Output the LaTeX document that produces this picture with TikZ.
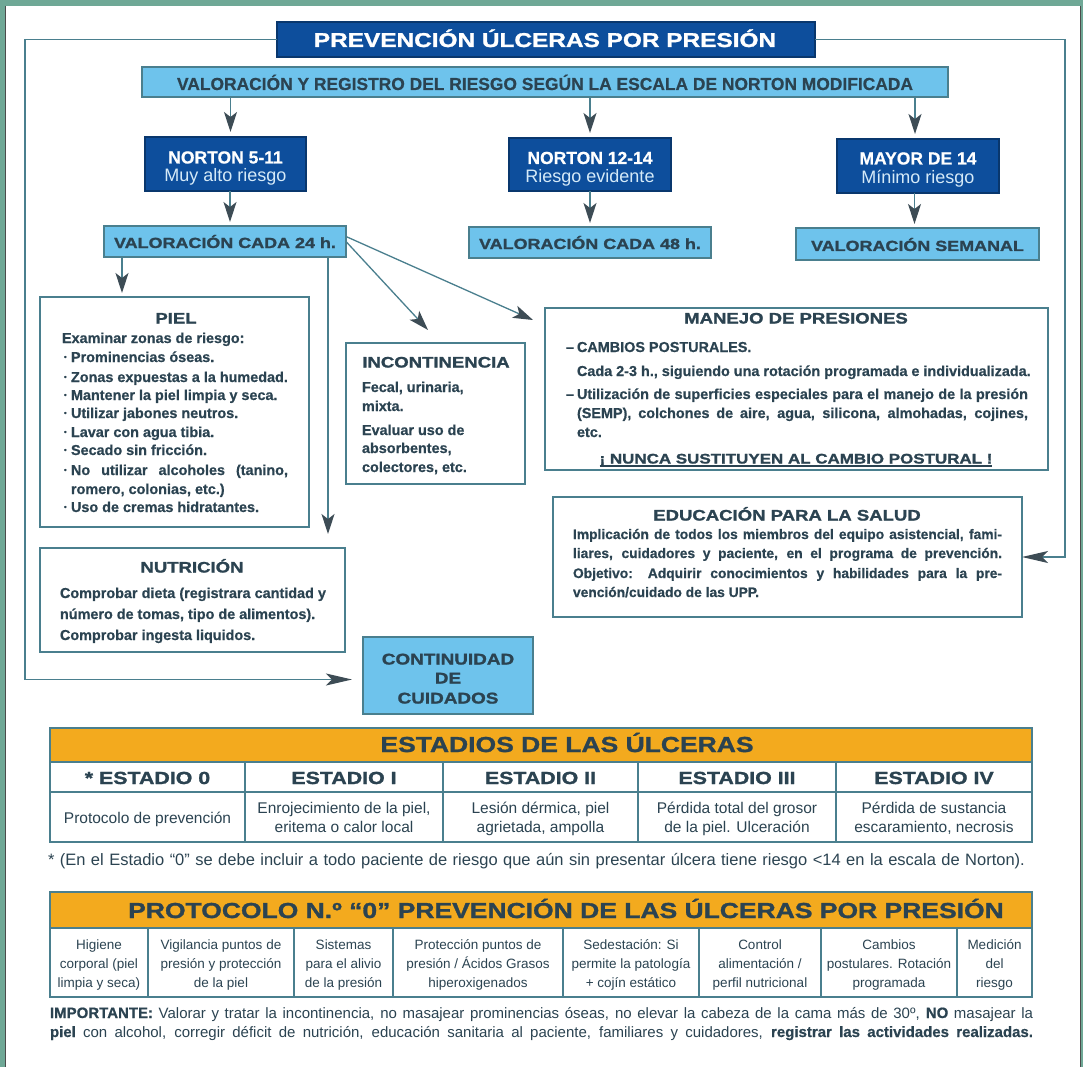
\documentclass[tikz,border=0pt]{standalone}
\usepackage{fontspec}
\usepackage{graphicx}
\setmainfont{Liberation Sans}[BoldFeatures={FakeBold=0.6}]
\newfontfamily\hvy{Liberation Sans}[FakeStretch=1.22,BoldFeatures={FakeBold=1.4}]
\usetikzlibrary{arrows.meta}
\definecolor{framegreen}{HTML}{6FA896}
\definecolor{dblue}{HTML}{0D4E9C}
\definecolor{lblue}{HTML}{6EC3EC}
\definecolor{txt}{HTML}{2B4351}
\definecolor{linec}{HTML}{4A7F8E}
\definecolor{arrowc}{HTML}{3D4C55}
\definecolor{orangeh}{HTML}{F3AA1E}
\definecolor{paleblue}{HTML}{D5EAF8}
\newcommand\fsz[2]{\fontsize{#1}{#2}\selectfont}
\newcommand\bul{\makebox[7pt][l]{\raisebox{2.5pt}{\fsz{7.5}{7}•}}}
\newcommand\dsh{\makebox[11pt][l]{–}}
\newcommand\tcell[5]{%
  \node[cellt] (#1a) at (#2,949.5) {#3};
  \node[cellt] (#1b) at (#2,968.5) {#4};
  \node[cellt] (#1c) at (#2,987.5) {#5};}
\newcommand\scell[4]{%
  \node[stxt] (#1a) at (#2,813) {#3};
  \node[stxt] (#1b) at (#2,832) {#4};}
\begin{document}
\begin{tikzpicture}[x=1pt,y=-1pt,
  every node/.style={inner sep=0pt,outer sep=0pt,text=txt},
  boxbase/.style={anchor=north west,draw=linec,line width=1.5pt},
  dbox/.style={boxbase,fill=dblue,draw=dblue!70!black},
  lbox/.style={boxbase,fill=lblue,draw=linec},
  wbox/.style={boxbase,fill=white,line width=1.7pt},
  conn/.style={draw=linec,line width=1.3pt},
  arr/.style={conn,-{Stealth[length=20pt,width=13pt,inset=5pt,color=arrowc]}},
  harr/.style={conn,-{Stealth[length=26pt,width=12pt,inset=6pt,color=arrowc]}},
  ttl/.style={anchor=base,font=\hvy\bfseries\fsz{15.2}{18}},
  body/.style={anchor=base west,font=\bfseries\fsz{14.4}{19}},
  edut/.style={anchor=base west,font=\bfseries\fsz{13.8}{19}},
  vtxt/.style={anchor=base,font=\hvy\bfseries\fsz{14.7}{18}},
  ntop/.style={anchor=base,text=white,font=\bfseries\fsz{17.5}{20}},
  nbot/.style={anchor=base,text=paleblue,font=\fsz{18}{20}},
  tbl/.style={draw=linec,line width=1.4pt},
  hdr/.style={anchor=base,font=\hvy\bfseries\fsz{21.7}{24}},
  shdr/.style={anchor=base,font=\hvy\bfseries\fsz{17.5}{20}},
  stxt/.style={anchor=base,font=\fsz{15.5}{19}},
  cellt/.style={anchor=base,font=\fsz{13.5}{16}}
]
\useasboundingbox (0,0) rectangle (1083,1067);
\fill[framegreen] (0,0) rectangle (1083,1067);
\fill[white] (6,6) rectangle (1080,1067);
\draw[black!70,line width=1pt] (5.5,6) -- (5.5,1067) (1080.5,6) -- (1080.5,1067);

% ---------- boxes ----------
\node[dbox,minimum width=538pt,minimum height=35pt] (title) at (277,22) {};
\node[anchor=base,text=white,font=\hvy\bfseries\fsz{20}{24}] (titlet) at (545,47) {PREVENCIÓN ÚLCERAS POR PRESIÓN};

\node[lbox,minimum width=806pt,minimum height=30pt] (valbar) at (142,67) {};
\node[anchor=base,font=\bfseries\fsz{17.4}{20}] (valbart) at (545,90) {VALORACIÓN Y REGISTRO DEL RIESGO SEGÚN LA ESCALA DE NORTON MODIFICADA};

\node[dbox,minimum width=161pt,minimum height=54pt] (n1) at (145,137) {};
\node[ntop] (n1a) at (225.5,163.5) {NORTON 5-11};
\node[nbot] (n1b) at (225.5,182) {Muy alto riesgo};
\node[dbox,minimum width=162pt,minimum height=53pt] (n2) at (509,138) {};
\node[ntop] (n2a) at (590,164) {NORTON 12-14};
\node[nbot] (n2b) at (590,182.5) {Riesgo evidente};
\node[dbox,minimum width=162pt,minimum height=54pt] (n3) at (837,139) {};
\node[ntop] (n3a) at (918,164.5) {MAYOR DE 14};
\node[nbot] (n3b) at (918,183.5) {Mínimo riesgo};

\node[lbox,minimum width=242pt,minimum height=31pt] (v24) at (104,226) {};
\node[vtxt] (v24t) at (225,248) {VALORACIÓN CADA 24 h.};
\node[lbox,minimum width=242pt,minimum height=31pt] (v48) at (469,227) {};
\node[vtxt] (v48t) at (590,249) {VALORACIÓN CADA 48 h.};
\node[lbox,minimum width=243pt,minimum height=32pt] (vsem) at (796,228) {};
\node[vtxt] (vsemt) at (917.5,251) {VALORACIÓN SEMANAL};

% PIEL
\node[wbox,minimum width=269pt,minimum height=230pt] (piel) at (40,297) {};
\node[ttl] (pielt) at (176,323.5) {PIEL};
\node[body] (p0) at (62,343) {Examinar zonas de riesgo:};
\node[body] (p1) at (64,362) {\bul Prominencias óseas.};
\node[body] (p2) at (64,382) {\bul Zonas expuestas a la humedad.};
\node[body] (p3) at (64,400) {\bul Mantener la piel limpia y seca.};
\node[body] (p4) at (64,418) {\bul Utilizar jabones neutros.};
\node[body] (p5) at (64,437) {\bul Lavar con agua tibia.};
\node[body] (p6) at (64,455) {\bul Secado sin fricción.};
\node[body] (p7) at (64,475) {\makebox[224pt][s]{\bul No utilizar alcoholes (tanino,}};
\node[body] (p8) at (71,494) {romero, colonias, etc.)};
\node[body] (p9) at (64,512) {\bul Uso de cremas hidratantes.};

% INCONTINENCIA
\node[wbox,minimum width=179pt,minimum height=141pt] (incont) at (346,343) {};
\node[ttl] (incontt) at (436,367.5) {INCONTINENCIA};
\node[body] (i1) at (362,392) {Fecal, urinaria,};
\node[body] (i2) at (362,411) {mixta.};
\node[body] (i3) at (362,435) {Evaluar uso de};
\node[body] (i4) at (362,453) {absorbentes,};
\node[body] (i5) at (362,472) {colectores, etc.};

% MANEJO
\node[wbox,minimum width=503pt,minimum height=162pt] (manejo) at (545,308) {};
\node[ttl] (manejot) at (796,323.5) {MANEJO DE PRESIONES};
\node[body] (m1) at (566,352) {\dsh CAMBIOS POSTURALES.};
\node[body] (m2) at (577,376) {Cada 2-3 h., siguiendo una rotación programada e individualizada.};
\node[body] (m3) at (566,399) {\makebox[462pt][s]{\dsh Utilización de superficies especiales para el manejo de la presión}};
\node[body] (m4) at (577,418) {\makebox[451pt][s]{(SEMP), colchones de aire, agua, silicona, almohadas, cojines,}};
\node[body] (m5) at (577,437) {etc.};
\node[anchor=base,font=\hvy\bfseries\fsz{13.9}{16}] (nunca) at (796,463.5) {¡ NUNCA SUSTITUYEN AL CAMBIO POSTURAL !};
\draw[draw=txt,line width=1.1pt] ([yshift=-2.5pt]nunca.base west) -- ([yshift=-2.5pt]nunca.base east);

% EDUCACION
\node[wbox,minimum width=469pt,minimum height=120pt] (edu) at (553,497) {};
\node[ttl] (edut) at (787,520.5) {EDUCACIÓN PARA LA SALUD};
\node[edut] (e1) at (573,539) {\makebox[429pt][s]{Implicación de todos los miembros del equipo asistencial, fami-}};
\node[edut] (e2) at (573,558) {\makebox[429pt][s]{liares, cuidadores y paciente, en el programa de prevención.}};
\node[edut] (e3) at (573,578) {\makebox[429pt][s]{Objetivo: Adquirir conocimientos y habilidades para la pre-}};
\node[edut] (e4) at (573,597) {vención/cuidado de las UPP.};

% NUTRICION
\node[wbox,minimum width=305pt,minimum height=104pt] (nutri) at (40,548) {};
\node[ttl] (nutrit) at (192,572.5) {NUTRICIÓN};
\node[body] (u1) at (60,598) {\makebox[266pt][s]{Comprobar dieta (registrara cantidad y}};
\node[body] (u2) at (60,619) {número de tomas, tipo de alimentos).};
\node[body] (u3) at (60,640) {Comprobar ingesta liquidos.};

% CONTINUIDAD
\node[lbox,minimum width=170pt,minimum height=77pt] (cont) at (363,637) {};
\node[ttl,font=\hvy\bfseries\fsz{15.5}{18}] (c1) at (448,664.5) {CONTINUIDAD};
\node[ttl,font=\hvy\bfseries\fsz{15.5}{18}] (c2) at (448,683.5) {DE};
\node[ttl,font=\hvy\bfseries\fsz{15.5}{18}] (c3) at (448,703.5) {CUIDADOS};

% ---------- connectors ----------
\coordinate (a1) at ([xshift=5pt]n1.north);
\coordinate (a2) at (n2.north);
\coordinate (a3) at ([xshift=-3pt]n3.north);
\draw[arr,shorten >=5pt] (a1 |- valbar.south) -- (a1);
\draw[arr,shorten >=5pt] (a2 |- valbar.south) -- (a2);
\draw[arr,shorten >=5pt] (a3 |- valbar.south) -- (a3);
\coordinate (b1) at ([xshift=5pt]v24.north);
\coordinate (b2) at (v48.north);
\coordinate (b3) at ([xshift=-3pt]vsem.north);
\draw[arr,shorten >=4pt] (b1 |- n1.south) -- (b1);
\draw[arr,shorten >=4pt] (b2 |- n2.south) -- (b2);
\draw[arr,shorten >=4pt] (b3 |- n3.south) -- (b3);

\coordinate (pa) at ([xshift=18pt]v24.south west);
\draw[arr,shorten >=4pt] (pa) -- (pa |- piel.north);
\coordinate (na) at ([xshift=224pt]v24.south west);
\draw[arr,shorten >=14pt] (na) -- (na |- nutri.north);
\coordinate (ia) at ([xshift=82pt,yshift=13pt]incont.north west);
\draw[arr] (v24.east) -- (ia);
\coordinate (ma) at ([xshift=-12pt,yshift=-12pt]manejo.north west);
\draw[arr] ([yshift=5pt]v24.east) -- (ma);

\coordinate (lc) at (25,40);
\draw[harr,shorten >=11pt] (title.west) -- (title.west -| lc) |- ([yshift=-4pt]cont.west);
\coordinate (rc) at (1065,40);
\draw[harr] (title.east) -- (title.east -| rc) |- (edu.east);

% ---------- ESTADIOS table ----------
\fill[orangeh] (50,728) rectangle (1032,762);
\draw[tbl] (50,728) rectangle (1032,842);
\draw[tbl] (50,762) -- (1032,762) (50,792) -- (1032,792);
\foreach \x in {245,443,638,836} \draw[tbl] (\x,762) -- (\x,842);
\node[hdr] (esth) at (567,752) {ESTADIOS DE LAS ÚLCERAS};
\node[shdr] (s0) at (147.5,784) {* ESTADIO 0};
\node[shdr] (s1) at (344,784) {ESTADIO I};
\node[shdr] (s2) at (540.5,784) {ESTADIO II};
\node[shdr] (s3) at (737,784) {ESTADIO III};
\node[shdr] (s4) at (934,784) {ESTADIO IV};
\node[stxt] (d0) at (147.5,823) {Protocolo de prevención};
\scell{d1}{344}{Enrojecimiento de la piel,}{eritema o calor local}
\scell{d2}{540.5}{Lesión dérmica, piel}{agrietada, ampolla}
\scell{d3}{737}{Pérdida total del grosor}{de la piel. Ulceración}
\scell{d4}{934}{Pérdida de sustancia}{escaramiento, necrosis}
\node[anchor=base west,font=\fsz{16.5}{19}] (fn) at (48,865) {\makebox[977pt][s]{* (En el Estadio “0” se debe incluir a todo paciente de riesgo que aún sin presentar úlcera tiene riesgo <14 en la escala de Norton).}};

% ---------- PROTOCOLO table ----------
\fill[orangeh] (50,892) rectangle (1032,928);
\draw[tbl] (50,892) rectangle (1032,997);
\draw[tbl] (50,928) -- (1032,928);
\foreach \x in {148,294,393,563,699,821,957} \draw[tbl] (\x,928) -- (\x,997);
\node[hdr] (proth) at (566,918) {PROTOCOLO N.º “0” PREVENCIÓN DE LAS ÚLCERAS POR PRESIÓN};
\tcell{t1}{99}{Higiene}{corporal (piel}{limpia y seca)}
\tcell{t2}{221}{Vigilancia puntos de}{presión y protección}{de la piel}
\tcell{t3}{343.5}{Sistemas}{para el alivio}{de la presión}
\tcell{t4}{478}{Protección puntos de}{presión / Ácidos Grasos}{hiperoxigenados}
\tcell{t5}{631}{Sedestación: Si}{permite la patología}{+ cojín estático}
\tcell{t6}{760}{Control}{alimentación /}{perfil nutricional}
\tcell{t7}{889}{Cambios}{postulares. Rotación}{programada}
\tcell{t8}{994.5}{Medición}{del}{riesgo}

\node[anchor=base west,font=\fsz{15}{18}] (imp1) at (50,1018) {\makebox[983pt][s]{\textbf{IMPORTANTE:} Valorar y tratar la incontinencia, no masajear prominencias óseas, no elevar la cabeza de la cama más de 30º, \textbf{NO} masajear la}};
\node[anchor=base west,font=\fsz{15}{18}] (imp2) at (50,1037) {\makebox[983pt][s]{\textbf{piel} con alcohol, corregir déficit de nutrición, educación sanitaria al paciente, familiares y cuidadores, \textbf{registrar las actividades realizadas.}}};
\end{tikzpicture}
\end{document}
